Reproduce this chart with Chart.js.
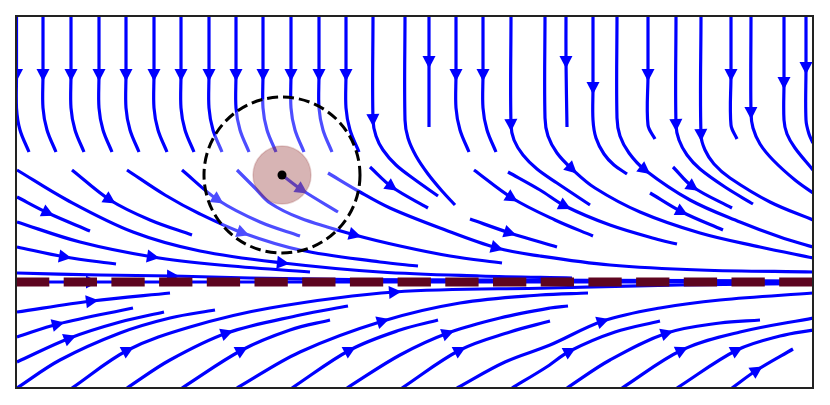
<!DOCTYPE html>
<html>
<head>
<meta charset="utf-8">
<script src="https://cdn.jsdelivr.net/npm/chart.js@4.4.1/dist/chart.umd.min.js"></script>
<style>
  html, body { margin: 0; padding: 0; background: #fff; }
  canvas { display: block; }
</style>
</head>
<body>
<canvas id="flowChart" width="830" height="405"></canvas>
<script>
// domain: x 0..797, depth 0..372 (depth grows downward)
const xMin = 0, xMax = 797, depthMax = 372;
const interfaceDepth = 266;

// streamlines coming down from the top edge
const topStreams = [
  [[0.5,0],[0.5,59],[0.5,92],[4,114],[13,136]],
  [[27,0],[27,59],[27,92],[31,114],[40,136]],
  [[55,0],[55,59],[55,92],[59,114],[68,136]],
  [[83,0],[83,59],[83,92],[87,114],[96,136]],
  [[110,0],[110,59],[110,92],[114,114],[123,136]],
  [[138,0],[138,59],[138,92],[142,114],[151,136]],
  [[165,0],[165,59],[165,92],[169,114],[178,136]],
  [[193,0],[193,59],[193,92],[197,114],[206,136]],
  [[220,0],[220,59],[220,92],[224,114],[233,136]],
  [[247,0],[247,59],[247,92],[251,114],[260,136]],
  [[275,0],[275,59],[275,92],[279,114],[288,136]],
  [[303,0],[303,59],[303,92],[307,114],[316,136]],
  [[330,0],[330,59],[330,92],[334,114],[343,136]],
  [[357,0],[357,104],[360,120],[367,134],[380,149],[398,163],[422,180]],
  [[389,0],[389,104],[392,122],[400,140],[412,158],[426,175],[439,189]],
  [[413,0],[413,46],[413,111]],
  [[440,0],[440,59],[440,92],[444,114],[453,136]],
  [[467,0],[467,59],[467,92],[471,114],[480,136]],
  [[495,0],[495,109],[498,124],[507,139],[521,153],[541,167],[574,189]],
  [[529,0],[529,102],[532,120],[541,137],[556,153],[579,172],[624,196],[684,217],[744,231],[797,242]],
  [[550,0],[550,46],[551,111]],
  [[577,0],[577,72],[577,104],[580,122],[588,138],[598,149],[611,158]],
  [[601,0],[601,102],[604,120],[613,137],[629,154],[674,184],[724,206],[764,221],[797,231]],
  [[632,0],[632,59],[632,109],[639,123]],
  [[660,0],[660,109],[663,124],[671,139],[684,153],[709,171],[737,188]],
  [[685,0],[685,119],[689,134],[698,148],[714,162],[754,186],[797,204]],
  [[715,0],[715,59],[715,109],[721,123]],
  [[735,0],[735,97],[737,112],[744,128],[757,144],[779,164],[797,177]],
  [[768,0],[768,67],[768,104],[771,118],[779,132],[797,154]],
  [[790,0],[790,52],[790,104],[793,118],[797,127]]
];
const topArrows = [
  [1],[1],[1],[1],[1],[1],[1],[1],[1],[1],[1],[1],[1],
  [1],[],[1],[1],[1],[1],[4],[1],[1],[4],[1],[1],[1],[1],[1],[1],[1]
];

// streamlines bending towards the interface from above
const midStreams = [
  [[1,154],[51,184],[117,216],[184,235],[267,247],[364,256],[464,260],[556,262]],
  [[1,181],[32,197],[74,215]],
  [[1,206],[64,226],[137,241],[204,249],[294,256]],
  [[1,231],[49,241],[100,248]],
  [[1,257],[84,259],[157,260],[234,262],[334,263.5],[484,264],[684,264.5],[797,265]],
  [[0,266],[76,266],[797,266]],
  [[56,154],[94,184],[134,204],[176,219]],
  [[111,154],[149,179],[184,198],[227,217],[284,234],[364,246],[402,250]],
  [[166,154],[202,184],[244,206],[284,220]],
  [[221,154],[239,172],[254,187],[284,202],[339,219],[384,230],[434,240],[486,247]],
  [[266,159],[286,174],[322,196]],
  [[312,157],[344,176],[374,192],[424,212],[481,232],[524,240],[594,249],[684,254],[797,256]],
  [[354,151],[376,171],[412,192]],
  [[458,154],[496,182],[539,204],[577,220]],
  [[454,203],[494,217],[541,231]],
  [[492,156],[524,174],[549,190],[594,209],[644,224],[661,228]],
  [[634,177],[666,196],[707,214]],
  [[657,151],[677,171],[716,192]]
];
const midArrows = [[4],[1],[2],[1],[2],[1],[1],[3],[1],[4],[1],[4],[1],[1],[1],[2],[1],[1]];

// streamlines rising towards the interface from below
const lowStreams = [
  [[1,296],[76,285],[154,277]],
  [[1,321],[42,308],[117,292]],
  [[1,346],[54,322],[104,306],[148,296]],
  [[1,372],[44,344],[104,317],[154,302],[199,294]],
  [[56,372],[112,334],[174,311],[254,292],[379,276],[534,272],[664,269],[797,267.5]],
  [[111,372],[154,344],[211,317],[284,299],[332,290]],
  [[166,372],[226,334],[274,314],[314,304]],
  [[221,372],[284,336],[367,305],[444,287],[524,279],[572,277]],
  [[276,372],[334,334],[384,314],[422,304]],
  [[331,372],[384,339],[432,317],[484,302],[534,292],[552,290]],
  [[386,372],[444,334],[494,316],[534,305]],
  [[441,372],[489,346],[534,329],[587,305],[644,292],[704,284],[797,277]],
  [[496,372],[529,352],[554,335],[599,316],[644,305]],
  [[551,372],[594,344],[651,317],[704,307],[744,304]],
  [[606,372],[666,334],[724,316],[797,302]],
  [[661,372],[721,334],[764,320],[797,314]],
  [[716,372],[741,354],[777,333]]
];
const lowArrows = [[1],[1],[1],[],[1,4],[2],[1],[2],[1],[2],[1],[3],[2],[2],[1],[1],[1]];

// obstacle: centre, ring radius and body radius in domain units
const ring = { x: 266, y: 159, r: 78, body: 29 };

const streamColor = '#0000ff';

const datasets = [];
function addGroup(lines, arrows) {
  lines.forEach((line, i) => {
    datasets.push({
      data: line.map(p => ({ x: p[0], y: p[1] })),
      arrows: arrows[i],
      borderColor: streamColor,
      borderWidth: 3.2,
      pointRadius: 0,
      tension: 0.35,
      fill: false,
      clip: 0
    });
  });
}
addGroup(topStreams, topArrows);
addGroup(midStreams, midArrows);
addGroup(lowStreams, lowArrows);

const flowDecor = {
  id: 'flowDecor',
  afterDatasetsDraw(chart) {
    const ctx = chart.ctx;
    const a = chart.chartArea;
    const xs = chart.scales.x, ys = chart.scales.y;
    ctx.save();
    ctx.beginPath();
    ctx.rect(a.left, a.top, a.right - a.left, a.bottom - a.top);
    ctx.clip();

    // arrowheads along the streamlines
    ctx.fillStyle = streamColor;
    chart.data.datasets.forEach((ds, di) => {
      const pts = chart.getDatasetMeta(di).data;
      (ds.arrows || []).forEach(i => {
        const p = pts[i];
        let dx = 0, dy = 0;
        if (p.cp1x !== undefined && p.cp2x !== undefined) {
          dx = p.cp2x - p.cp1x;
          dy = p.cp2y - p.cp1y;
        }
        if (Math.hypot(dx, dy) < 0.01) {
          const p0 = pts[Math.max(i - 1, 0)], p1 = pts[Math.min(i + 1, pts.length - 1)];
          dx = p1.x - p0.x;
          dy = p1.y - p0.y;
        }
        const len = Math.hypot(dx, dy) || 1;
        const ux = dx / len, uy = dy / len;
        ctx.beginPath();
        ctx.moveTo(p.x + ux * 6.5, p.y + uy * 6.5);
        ctx.lineTo(p.x - ux * 6 - uy * 6.5, p.y - uy * 6 + ux * 6.5);
        ctx.lineTo(p.x - ux * 6 + uy * 6.5, p.y - uy * 6 - ux * 6.5);
        ctx.closePath();
        ctx.fill();
      });
    });

    const cx = xs.getPixelForValue(ring.x), cy = ys.getPixelForValue(ring.y);
    const toPx = v => xs.getPixelForValue(ring.x + v) - cx;

    // influence ring
    ctx.beginPath();
    ctx.arc(cx, cy, toPx(ring.r), 0, Math.PI * 2);
    ctx.fillStyle = 'rgba(255,255,255,0.3)';
    ctx.fill();
    ctx.setLineDash([11, 5]);
    ctx.lineWidth = 3;
    ctx.strokeStyle = '#000';
    ctx.stroke();
    ctx.setLineDash([]);

    // body
    ctx.beginPath();
    ctx.arc(cx, cy, toPx(ring.body), 0, Math.PI * 2);
    ctx.fillStyle = 'rgba(140,40,40,0.35)';
    ctx.fill();
    ctx.lineWidth = 1.5;
    ctx.strokeStyle = 'rgba(140,40,40,0.2)';
    ctx.stroke();

    ctx.beginPath();
    ctx.arc(cx, cy, 4.5, 0, Math.PI * 2);
    ctx.fillStyle = '#000';
    ctx.fill();

    // interface
    const iy = ys.getPixelForValue(interfaceDepth);
    ctx.beginPath();
    ctx.moveTo(xs.getPixelForValue(xMin), iy);
    ctx.lineTo(xs.getPixelForValue(xMax), iy);
    ctx.setLineDash([33.3, 14.4]);
    ctx.lineCap = 'butt';
    ctx.lineWidth = 9;
    ctx.strokeStyle = '#5e0520';
    ctx.stroke();
    ctx.restore();

    // frame
    ctx.save();
    ctx.lineWidth = 2;
    ctx.strokeStyle = '#222';
    ctx.strokeRect(a.left, a.top, a.right - a.left, a.bottom - a.top);
    ctx.restore();
  }
};

const ctx = document.getElementById('flowChart').getContext('2d');
const flowChart = new Chart(ctx, {
  type: 'line',
  data: { datasets: datasets },
  options: {
    responsive: false,
    animation: false,
    devicePixelRatio: 1,
    layout: { padding: { left: 16, right: 17, top: 16, bottom: 17 } },
    plugins: { legend: { display: false }, tooltip: { enabled: false } },
    scales: {
      x: { type: 'linear', min: xMin, max: xMax, display: false },
      y: { type: 'linear', min: 0, max: depthMax, reverse: true, display: false }
    }
  },
  plugins: [flowDecor]
});
</script>
</body>
</html>
